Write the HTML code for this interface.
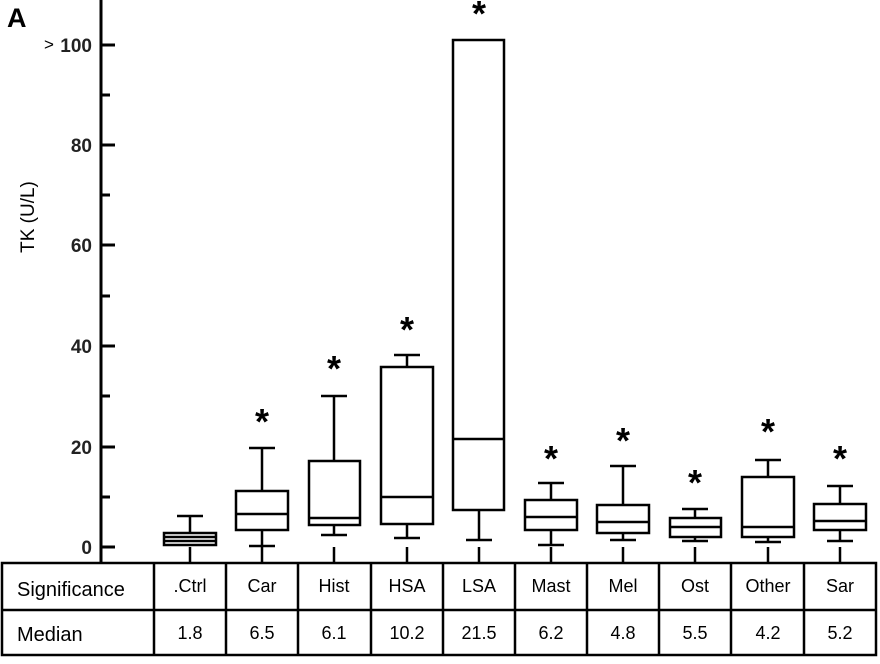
<!DOCTYPE html>
<html><head><meta charset="utf-8"><style>body{margin:0;background:#fff}svg{display:block}</style></head><body>
<svg width="880" height="664" xmlns="http://www.w3.org/2000/svg" font-family="Liberation Sans, Arial, sans-serif">
<rect width="880" height="664" fill="#fff"/>
<text x="7" y="27" font-size="27" font-weight="bold">A</text>
<text transform="translate(34,217) rotate(-90)" font-size="19" text-anchor="middle">TK (U/L)</text>
<g stroke="#000" stroke-width="3" fill="none">
<line x1="101" y1="0" x2="101" y2="563"/>
<line x1="101" y1="45" x2="115" y2="45"/><line x1="101" y1="145" x2="115" y2="145"/><line x1="101" y1="245" x2="115" y2="245"/><line x1="101" y1="346" x2="115" y2="346"/><line x1="101" y1="447" x2="115" y2="447"/><line x1="101" y1="547" x2="115" y2="547"/>
<line x1="101" y1="95" x2="110" y2="95"/><line x1="101" y1="195" x2="110" y2="195"/><line x1="101" y1="296" x2="110" y2="296"/><line x1="101" y1="396" x2="110" y2="396"/><line x1="101" y1="497" x2="110" y2="497"/>
</g>
<g font-size="19" font-weight="bold" text-anchor="end" fill="#222">
<text x="92" y="52">100</text><text x="92" y="152">80</text><text x="92" y="252">60</text><text x="92" y="353">40</text><text x="92" y="454">20</text><text x="92" y="554">0</text>
</g>
<text x="44" y="50" font-size="17">&gt;</text>
<g stroke="#000" stroke-width="2.5" fill="none">
<path d="M190 547V563M262 547V563M334 547V563M407 547V563M479 547V563M551 547V563M623 547V563M695 547V563M768 547V563M840 547V563"/>
<path d="M190 516V533M177 516H203"/><rect x="164" y="533" width="52" height="12"/><path d="M164 537H216M164 541H216"/>
<path d="M262 448V491M249 448H275M262 530V546M249 546H275"/><rect x="236" y="491" width="52" height="39"/><path d="M236 514H288"/>
<path d="M334 396V461M321 396H347M334 525V535M321 535H347"/><rect x="309" y="461" width="51" height="64"/><path d="M309 518H360"/>
<path d="M407 355V367M394 355H420M407 524V538M394 538H420"/><rect x="381" y="367" width="52" height="157"/><path d="M381 497H433"/>
<path d="M479 510V540M466 540H492"/><rect x="453" y="40" width="51" height="470"/><path d="M453 439H504"/>
<path d="M551 483V500M538 483H564M551 530V545M538 545H564"/><rect x="525" y="500" width="52" height="30"/><path d="M525 517H577"/>
<path d="M623 466V505M610 466H636M623 533V540M610 540H636"/><rect x="597" y="505" width="52" height="28"/><path d="M597 522H649"/>
<path d="M695 509V518M682 509H708M695 537V541M682 541H708"/><rect x="670" y="518" width="51" height="19"/><path d="M670 527H721"/>
<path d="M768 460V477M755 460H781M768 537V542M755 542H781"/><rect x="742" y="477" width="52" height="60"/><path d="M742 527H794"/>
<path d="M840 486V504M827 486H853M840 530V541M827 541H853"/><rect x="814" y="504" width="52" height="26"/><path d="M814 521H866"/>
</g>
<g font-size="36" font-weight="bold" text-anchor="middle">
<text x="262" y="434">*</text><text x="334" y="381">*</text><text x="407" y="342">*</text><text x="479" y="26">*</text><text x="551" y="471">*</text><text x="623" y="453">*</text><text x="695" y="495">*</text><text x="768" y="444">*</text><text x="840" y="471">*</text>
</g>
<g stroke="#000" stroke-width="2.5" fill="none">
<rect x="2" y="563" width="874" height="92"/>
<line x1="2" y1="610" x2="876" y2="610"/>
<path d="M154 563V655M226 563V655M298 563V655M371 563V655M443 563V655M515 563V655M587 563V655M659 563V655M731 563V655M804 563V655"/>
</g>
<text x="17" y="596" font-size="20">Significance</text>
<text x="17" y="641" font-size="20">Median</text>
<g font-size="18" text-anchor="middle">
<text x="190" y="592">.Ctrl</text><text x="262" y="592">Car</text><text x="334" y="592">Hist</text><text x="407" y="592">HSA</text><text x="479" y="592">LSA</text><text x="551" y="592">Mast</text><text x="623" y="592">Mel</text><text x="695" y="592">Ost</text><text x="768" y="592">Other</text><text x="840" y="592">Sar</text>
<text x="190" y="639">1.8</text><text x="262" y="639">6.5</text><text x="334" y="639">6.1</text><text x="407" y="639">10.2</text><text x="479" y="639">21.5</text><text x="551" y="639">6.2</text><text x="623" y="639">4.8</text><text x="695" y="639">5.5</text><text x="768" y="639">4.2</text><text x="840" y="639">5.2</text>
</g>
</svg>
</body></html>
